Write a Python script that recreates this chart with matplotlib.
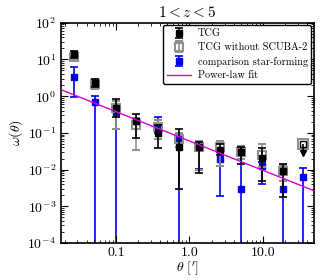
import numpy as np
import matplotlib
matplotlib.use("Agg")
import matplotlib.pyplot as plt
from matplotlib.ticker import FixedLocator, FixedFormatter, LogLocator, NullFormatter

plt.rcParams['font.family'] = 'serif'
plt.rcParams['font.serif'] = ['cmr10', 'DejaVu Serif']
plt.rcParams['mathtext.fontset'] = 'cm'
plt.rcParams['axes.formatter.use_mathtext'] = True

# angular bins (arcmin)
theta = [0.027, 0.052, 0.10, 0.19, 0.37, 0.71, 1.36, 2.6, 4.97, 9.6, 18.6, 35.5]

# TCG (black)
tcg = [13.8, 2.3, 0.48, 0.214, 0.102, 0.040, 0.042, 0.035, 0.030, 0.021, 0.0093]
tcg_up = [17.0, 3.0, 0.82, 0.32, 0.16, 0.126, 0.058, 0.049, 0.040, 0.038, 0.014]
tcg_lo = [11.0, 1.8, 0.275, 0.074, 0.039, 0.0029, 0.0079, 0.025, 0.0138, 0.0049, 0.0018]
tcg_limit = 0.051

# TCG without SCUBA-2 (gray)
noscuba = [12.0, 2.2, 0.47, 0.16, 0.14, 0.068, 0.042, 0.042, 0.030, 0.025, 0.0090]
noscuba_up = [15.0, 2.9, 0.75, 0.25, 0.22, 0.10, 0.060, 0.060, 0.045, 0.051, 0.013]
noscuba_lo = [9.5, 1.6, 0.13, 0.035, 0.07, 0.04, 0.0100, 0.0126, 0.020, 0.012, 0.005]
noscuba_limit = 0.051

# comparison star-forming (blue)
comp = [3.4, 0.71, 0.38, 0.21, 0.14, 0.072, 0.042, 0.020, 0.0030, 0.0125, 0.0030, 0.0063]
comp_up = [6.1, 1.0, 0.50, 0.25, 0.275, 0.098, 0.055, 0.030, 0.035, 0.016, 0.0050, 0.0107]
comp_lo = [0.96, 1e-6, 1e-6, 0.18, 0.10, 1e-6, 0.0101, 0.0019, 1e-6, 0.0040, 1e-6, 1e-6]

# power-law fit  w = A * theta^(-delta)
fit_A = 0.06
fit_delta = 0.8

xticks = [0.1, 1.0, 10.0]
xticklabels = ['0.1', '1.0', '10.0']

fig = plt.figure(figsize=(3.2, 2.8), dpi=100)
ax = fig.add_axes([61/320, 1-243/280, (314-61)/320, (243-22.7)/280])

th = np.array(theta)

def yerr(v, up, lo):
    v = np.array(v); up = np.array(up); lo = np.array(lo)
    return [v - lo, up - v]

n = len(tcg)
ax.errorbar(th, comp, yerr=yerr(comp, comp_up, comp_lo), fmt='s',
            color='#0000ee', mec='#0000ee', ms=5, elinewidth=1.2, capsize=3, capthick=1.2,
            label='comparison star-forming', zorder=1)
ax.errorbar(th[:n], noscuba, yerr=yerr(noscuba, noscuba_up, noscuba_lo), fmt='s',
            mfc='none', mec='#909090', mew=1.5, ms=6, ecolor='#909090', elinewidth=1.2,
            capsize=3, capthick=1.2, label='TCG without SCUBA-2', zorder=2)
ax.errorbar(th[:n], tcg, yerr=yerr(tcg, tcg_up, tcg_lo), fmt='s',
            color='black', ms=5, elinewidth=1.2, capsize=3, capthick=1.2,
            label='TCG', zorder=4)
# upper limits at the last bin
ax.plot([th[-1]], [noscuba_limit], 's', mfc='none', mec='#909090', mew=1.5, ms=7, zorder=2)
ax.errorbar([th[-1]], [tcg_limit], yerr=[[tcg_limit*0.45], [0]], fmt='s', mfc='none',
            mec='black', color='black', ms=4, mew=1.0, elinewidth=1.2,
            capsize=0, zorder=4)
ax.plot([th[-1]], [tcg_limit*0.55], marker='v', color='black', ms=4, zorder=4)

xf = np.logspace(np.log10(0.0179), np.log10(49.4), 50)
ax.plot(xf, fit_A * xf**(-fit_delta), color='#dd00dd', lw=1.0, label='Power-law fit', zorder=5)

ax.set_xscale('log')
ax.set_yscale('log')
ax.set_xlim(0.0179, 49.4)
ax.set_ylim(1e-4, 1e2)
ax.xaxis.set_major_locator(FixedLocator(xticks))
ax.xaxis.set_major_formatter(FixedFormatter(xticklabels))
ax.xaxis.set_minor_locator(LogLocator(base=10, subs=np.arange(2, 10), numticks=20))
ax.xaxis.set_minor_formatter(NullFormatter())
ax.yaxis.set_major_locator(LogLocator(base=10, numticks=20))
ax.yaxis.set_minor_locator(LogLocator(base=10, subs=np.arange(2, 10), numticks=20))
ax.yaxis.set_minor_formatter(NullFormatter())
ax.tick_params(which='both', direction='in', top=True, right=True, labelsize=10)
ax.tick_params(which='major', length=5, width=0.8)
ax.tick_params(which='minor', length=2.5, width=0.6)
ax.tick_params(axis='x', pad=3)
for s in ax.spines.values():
    s.set_linewidth(1.2)

ax.set_title(r'$1 < z < 5$', fontsize=11, pad=4)
ax.set_xlabel(r"$\theta\ [']$", fontsize=10, labelpad=0)
ax.set_ylabel(r'$\omega(\theta)$', fontsize=10, labelpad=2)

h, l = ax.get_legend_handles_labels()
order = [l.index(k) for k in ['TCG', 'TCG without SCUBA-2', 'comparison star-forming', 'Power-law fit']]
leg = ax.legend([h[i] for i in order], [l[i] for i in order], loc='upper right',
                fontsize=7.4, frameon=True, fancybox=True, edgecolor='black',
                borderpad=0.35, labelspacing=0.42, handlelength=2.3, handletextpad=0.7,
                borderaxespad=0.25)
leg.get_frame().set_linewidth(1.0)
leg.get_frame().set_alpha(1)

fig.savefig('out.png', dpi=100)
